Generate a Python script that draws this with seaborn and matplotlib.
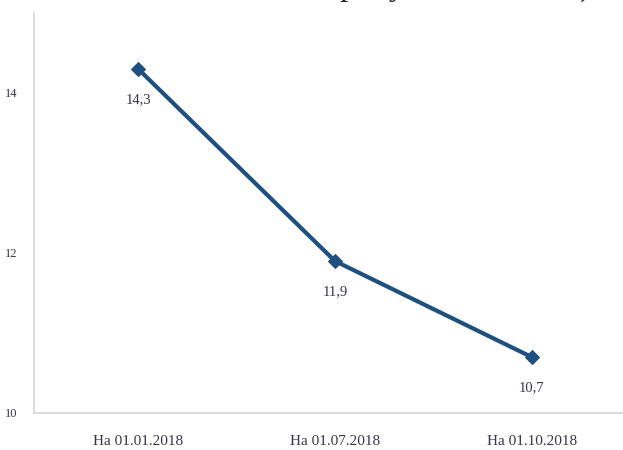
import matplotlib
matplotlib.use("Agg")
import matplotlib.pyplot as plt
import seaborn as sns
import pandas as pd

# Data
dates = ["На 01.01.2018", "На 01.07.2018", "На 01.10.2018"]
values = [14.3, 11.9, 10.7]
value_labels = ["14,3", "11,9", "10,7"]
y_ticks = [10, 12, 14]

sns.set_style("white")
plt.rcParams["font.family"] = ["Liberation Serif", "DejaVu Serif"]

df = pd.DataFrame({"date": dates, "value": values})
df["pos"] = range(len(dates))

fig = plt.figure(figsize=(6.23, 4.5), dpi=100)
ax = fig.add_axes([34 / 623, 37 / 450, 590 / 623, 400 / 450])

line_color = "#1d4f80"
text_color = "#38344a"

sns.lineplot(data=df, x="pos", y="value", ax=ax, color=line_color,
             linewidth=3.0, marker="D", markersize=7,
             markeredgecolor=line_color, markerfacecolor=line_color)

for x, y, lab in zip(df["pos"], values, value_labels):
    ax.annotate(lab, (x, y), xytext=(0, -22), textcoords="offset points",
                ha="center", va="center", fontsize=10.5, color=text_color)

ax.set_xlim(-0.53, 2.47)
ax.set_ylim(10, 15)
ax.set_xticks(list(df["pos"]))
ax.set_xticklabels(dates, fontsize=11, color=text_color)
ax.set_yticks(y_ticks)
ax.set_yticklabels([str(t) for t in y_ticks], fontsize=9, color=text_color)
ax.tick_params(axis="x", length=0, pad=16)
ax.tick_params(axis="y", length=0, pad=12)
ax.set_xlabel("")
ax.set_ylabel("")

for s in ["top", "right"]:
    ax.spines[s].set_visible(False)
for s in ["left", "bottom"]:
    ax.spines[s].set_color("#d4d4dc")
    ax.spines[s].set_linewidth(1.2)

# Clipped line of body text above the chart (scan remnant, cut off in the reference too)
fig.text(340 / 623, 1.012, "рисунках 43 и 44).", fontsize=24,
         va="baseline", ha="left", color="#222222")

fig.savefig("out.png", dpi=100)
